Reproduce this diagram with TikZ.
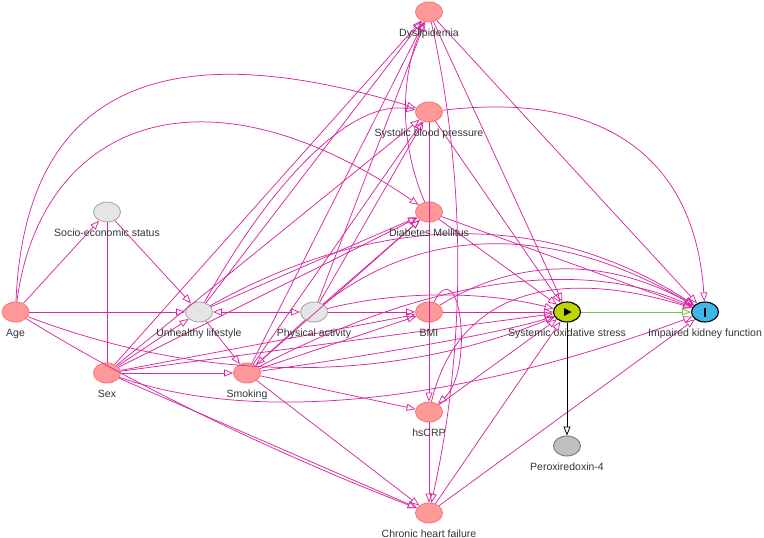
\documentclass[tikz,border=0pt]{standalone}
\usepackage{fontspec}
\setmainfont{Liberation Sans}
\usetikzlibrary{shapes.geometric,arrows.meta,calc}
\definecolor{nfill}{RGB}{255,153,153}
\definecolor{nbord}{RGB}{250,120,120}
\definecolor{lfill}{RGB}{229,229,229}
\definecolor{lbord}{RGB}{170,170,170}
\definecolor{pfill}{RGB}{192,192,192}
\definecolor{pbord}{RGB}{120,120,120}
\definecolor{sosfill}{RGB}{190,212,3}
\definecolor{ikffill}{RGB}{64,182,230}
\definecolor{ecol}{RGB}{214,41,158}
\definecolor{gcol}{RGB}{125,195,70}
\definecolor{labcol}{RGB}{51,51,51}
\newcommand{\qcurve}[3]{\draw[e] (#1) .. controls ($(#1.center)!0.6667!(#2)$) and ($(#3.center)!0.6667!(#2)$) .. (#3);}
\begin{document}
\begin{tikzpicture}[x=1pt,y=-1pt,
  base/.style={ellipse, minimum width=27pt, minimum height=20pt, inner sep=0pt, line width=0.9pt},
  pn/.style={base, draw=nbord, fill=nfill},
  ln/.style={base, draw=lbord, fill=lfill},
  on/.style={base, draw=pbord, fill=pfill},
  lab/.style={font=\fontsize{10.5}{12}\selectfont, text=labcol, inner sep=0pt, anchor=base},
  e/.style={draw=ecol, line width=0.75pt, -{Triangle[open, length=9pt, width=7pt]}},
  bi/.style={draw=ecol, line width=0.75pt, {Triangle[open, length=9pt, width=7pt]}-{Triangle[open, length=9pt, width=7pt]}},
  un/.style={draw=ecol, line width=0.75pt}]
\useasboundingbox (0,0) rectangle (764,538);
% nodes
\node[pn] (Dys) at (429,12) {};
\node[pn] (SBP) at (429,112) {};
\node[pn] (DM) at (429,212) {};
\node[pn] (BMI) at (429,312) {};
\node[pn] (CRP) at (429,412) {};
\node[pn] (CHF) at (429,513) {};
\node[ln] (SES) at (107,212) {};
\node[pn] (Age) at (15.5,312) {};
\node[ln] (UL) at (199,312) {};
\node[ln] (PA) at (314,312) {};
\node[pn] (Sex) at (107,373) {};
\node[pn] (Smk) at (247,373) {};
\node[base, draw=black, line width=1.1pt, fill=sosfill] (SOS) at (567,312) {};
\node[base, draw=black, line width=1.1pt, fill=ikffill] (IKF) at (705,312) {};
\node[on] (PRX) at (567,446) {};
\fill[black] (564,308) -- (571.5,312) -- (564,316) -- cycle;
\fill[black] (703.8,307.5) rectangle (706.2,316.5);
% straight edges
\draw[e] (Age) -- (SES);
\draw[e] (Age) -- (UL);
\draw[e] (SES) -- (UL);
\draw[un] (SES) -- (Sex);
\draw[e] (Sex) -- (UL);
\draw[e] (Sex) -- (Smk);
\draw[e] (Sex) -- (Dys);
\draw[e] (Sex) -- (SBP);
\draw[e] (Sex) -- (DM);
\draw[e] (Sex) -- (BMI);
\draw[e] (Sex) -- (SOS);
\draw[e] (Sex) -- (CHF);
\draw[e] (UL) -- (Smk);
\draw[e] (UL) -- (Dys);
\draw[e] (UL) -- (DM);
\draw[bi] (UL) -- (PA);
\draw[e] (PA) -- (BMI);
\draw[e] (PA) -- (DM);
\draw[e] (PA) -- (SBP);
\draw[e] (PA) -- (Dys);
\draw[e] (PA) -- (Smk);
\draw[e] (Smk) -- (CRP);
\draw[e] (Smk) -- (CHF);
\draw[e] (Smk) -- (BMI);
\draw[e] (Smk) -- (SBP);
\draw[e] (Smk) -- (Dys);
\draw[e] (Smk) -- (DM);
\draw[e] (Dys) -- (SOS);
\draw[e] (Dys) -- (IKF);
\draw[e] (SBP) -- (SOS);
\draw[e] (SBP) -- (CRP);
\draw[e] (DM) -- (SOS);
\draw[e] (DM) -- (IKF);
\draw[e] (BMI) -- (SOS);
\draw[e] (CRP) -- (CHF);
\draw[e] (CRP) -- (SOS);
\draw[e] (CHF) -- (SOS);
\draw[e] (CHF) -- (IKF);
% curved edges
\draw[e] (Age) .. controls (25,90) and (160,30) .. (SBP);
\draw[e] (Age) .. controls (40,125) and (200,55) .. (DM);
\qcurve{Age}{300,420}{SOS}
\qcurve{Age}{190,420}{CHF}
\qcurve{Sex}{330,450}{IKF}
\qcurve{UL}{470,160}{IKF}
\qcurve{UL}{320,95}{SBP}
\qcurve{PA}{440,280}{SOS}
\qcurve{PA}{480,180}{IKF}
\qcurve{Smk}{520,230}{IKF}
\qcurve{Smk}{480,340}{SOS}
\qcurve{Dys}{485,262}{CHF}
\qcurve{DM}{385,110}{Dys}
\qcurve{SBP}{690,80}{IKF}
\qcurve{BMI}{560,230}{IKF}
\qcurve{CRP}{470,240}{IKF}
\draw[e] (BMI) .. controls (460,250) and (475,370) .. (CRP);
% causal
\draw[draw=gcol, line width=0.9pt, -{Triangle[open, length=9pt, width=7pt]}] (SOS) -- (IKF);
\draw[draw=black, line width=0.8pt, -{Triangle[open, length=9pt, width=7pt]}] (SOS) -- (PRX);
% labels
\node[lab] (lDys) at (429,36) {Dyslipidemia};
\node[lab] (lSBP) at (429,136) {Systolic blood pressure};
\node[lab] (lDM) at (429,236) {Diabetes Mellitus};
\node[lab] (lBMI) at (429,336) {BMI};
\node[lab] (lCRP) at (429,436) {hsCRP};
\node[lab] (lCHF) at (429,537) {Chronic heart failure};
\node[lab] (lSES) at (107,236) {Socio-economic status};
\node[lab] (lAge) at (15.5,336) {Age};
\node[lab] (lUL) at (199,336) {Unhealthy lifestyle};
\node[lab] (lPA) at (314,336) {Physical activity};
\node[lab] (lSex) at (107,397) {Sex};
\node[lab] (lSmk) at (247,397) {Smoking};
\node[lab] (lSOS) at (567,336) {Systemic oxidative stress};
\node[lab] (lIKF) at (705,336) {Impaired kidney function};
\node[lab] (lPRX) at (567,470) {Peroxiredoxin-4};
\end{tikzpicture}
\end{document}
